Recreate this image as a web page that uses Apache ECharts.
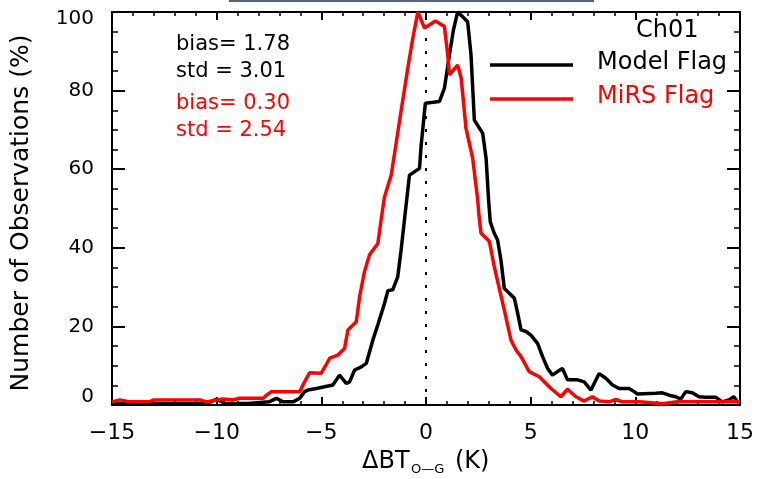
<!DOCTYPE html>
<html><head><meta charset="utf-8">
<script src="https://cdn.jsdelivr.net/npm/echarts@6/dist/echarts.min.js"></script>
<style>html,body{margin:0;padding:0;background:#fff}#c{width:757px;height:479px}</style>
</head><body><div id="c"></div>
<script>
// Model Flag (black) histogram vertices: Delta BT (K), % of observations
const modelFlagX = [-15.0,-12.0,-10.5,-10.0,-9.6,-8.5,-7.5,-7.15,-6.83,-6.35,-6.03,-5.80,-5.64,-5.24,-4.45,-4.13,-3.81,-3.65,-3.41,-3.09,-2.85,-2.54,-2.30,-1.98,-1.82,-1.59,-1.35,-1.19,-1.03,-0.79,-0.31,-0.23,-0.03,0.64,0.88,1.12,1.31,1.51,1.75,1.99,2.15,2.31,2.71,2.87,2.99,3.07,3.26,3.42,3.58,3.74,3.98,4.22,4.38,4.54,4.78,5.01,5.33,5.57,5.81,6.04,6.28,6.52,6.76,7.24,7.56,7.88,8.27,8.59,8.91,9.23,9.70,9.94,10.10,10.97,11.29,11.61,11.93,12.17,12.41,12.72,13.04,13.36,13.84,14.15,14.47,14.71,14.87,15.0];
const modelFlagY = [0.3,0.3,0.3,1.5,0.4,0.4,0.8,1.7,0.8,0.8,1.7,3.4,3.8,4.2,5.1,7.6,5.5,5.9,8.9,9.7,10.6,16.5,20.4,25.9,29.1,29.3,32.6,39.4,47.1,58.5,60.2,66.2,76.8,77.2,80.6,89.1,95.4,100,98.8,97.5,89.1,72.5,69.1,62.8,52.2,46.6,43.7,42.0,36.9,29.7,28.4,27.2,23.3,19.1,18.7,17.8,15.7,12.3,9.3,7.6,8.5,9.3,6.4,6.4,5.9,3.8,8.0,6.8,5.1,4.2,4.2,3.4,2.8,3.0,3.1,2.5,2.1,1.5,3.4,3.1,2.1,2.0,2.0,0.8,1.3,2.1,0.8,0.8];
// MiRS Flag (red)
const mirsFlagX = [-15.0,-14.62,-14.14,-13.19,-13.03,-10.80,-10.48,-10.01,-9.69,-9.22,-8.90,-7.78,-7.62,-7.38,-6.03,-5.80,-5.56,-5.00,-4.60,-4.21,-3.89,-3.73,-3.33,-3.17,-2.94,-2.70,-2.30,-2.10,-1.98,-1.66,-1.27,-0.87,-0.63,-0.39,-0.07,0.45,0.88,1.04,1.12,1.51,1.68,1.91,2.23,2.47,2.52,2.63,3.03,3.26,3.50,3.74,4.06,4.30,4.54,4.93,5.41,5.97,6.44,6.76,7.16,7.56,7.95,8.27,8.75,9.07,9.38,10.18,11.3,12.0,15.0];
const mirsFlagY = [0.8,1.3,0.8,0.8,1.3,1.3,0.8,1.3,1.5,1.3,1.7,1.7,2.5,3.4,3.4,5.9,8.2,8.1,11.9,12.7,14.4,19.1,21.2,27.6,33.9,38.2,41.1,48.8,53.0,58.5,72.1,85.7,93.3,100,95.9,97.7,96.3,89.0,84.0,86.5,83.2,70.4,62.8,52.2,48.8,43.7,41.6,35.2,29.7,24.2,16.5,14.0,12.3,8.5,7.2,4.2,2.1,4.0,2.1,1.0,2.1,1.0,0.8,1.4,0.8,0.8,0.3,0.8,0.8];
const zeroLineX = [0, 0];
const zeroLineY = [0, 100];
const seriesNames = ['Model Flag', 'MiRS Flag'];
const statsLines = ['bias= 1.78', 'std = 3.01', 'bias= 0.30', 'std = 2.54'];

const FONT = 'DejaVu Sans';
const zip = (xs, ys) => xs.map((x, i) => [x, ys[i]]);

const chart = echarts.init(document.getElementById('c'), null, {renderer: 'canvas'});

const xBase = {
  type: 'value', min: -15, max: 15, interval: 5,
  axisLine: {onZero: false, lineStyle: {color: '#000', width: 2}},
  axisTick: {inside: true, length: 8, lineStyle: {color: '#000', width: 2}},
  minorTick: {show: true, splitNumber: 5, length: 4, lineStyle: {color: '#000', width: 1.5}},
  splitLine: {show: false}
};
const yBase = {
  type: 'value', min: 0, max: 100, interval: 20,
  axisLine: {onZero: false, show: true, lineStyle: {color: '#000', width: 2}},
  axisTick: {show: true, inside: true, length: 13, lineStyle: {color: '#000', width: 2}},
  minorTick: {show: true, splitNumber: 4, length: 6, lineStyle: {color: '#000', width: 1.5}},
  splitLine: {show: false}
};

chart.setOption({
  animation: false,
  backgroundColor: '#fff',
  grid: {left: 112, right: 16, top: 12, bottom: 74},
  xAxis: [
    Object.assign({}, xBase, {position: 'bottom',
      axisLabel: {fontFamily: FONT, fontSize: 22, color: '#000', margin: 17,
        formatter: v => String(v).replace('-', '\u2212')}}),
    Object.assign({}, xBase, {position: 'top', axisLabel: {show: false}})
  ],
  yAxis: [
    Object.assign({}, yBase, {position: 'left',
      axisLabel: {fontFamily: FONT, fontSize: 20, color: '#000', margin: 18,
        formatter: v => v === 0 ? '{lo|0}' : (v === 100 ? '{hi|100}' : String(v)),
        rich: {
          lo: {fontFamily: FONT, fontSize: 20, color: '#000', padding: [0, 0, 16, 0]},
          hi: {fontFamily: FONT, fontSize: 20, color: '#000', padding: [14, 0, 0, 0]}
        }}}),
    Object.assign({}, yBase, {position: 'right', axisLabel: {show: false}})
  ],
  series: [
    {type: 'line', name: 'zero', data: zip(zeroLineX, zeroLineY), symbol: 'none', silent: true,
      lineStyle: {color: '#000', width: 2, type: [3, 10]}},
    {type: 'line', name: seriesNames[0], data: zip(modelFlagX, modelFlagY), symbol: 'none',
      lineStyle: {color: '#000', width: 3.5}},
    {type: 'line', name: seriesNames[1], data: zip(mirsFlagX, mirsFlagY), symbol: 'none',
      lineStyle: {color: '#ff0000', width: 3.5}}
  ],
  graphic: [
    {type: 'line', shape: {x1: 229, y1: 1, x2: 594, y2: 1}, style: {stroke: '#56627e', lineWidth: 2}},
    {type: 'text', x: 176, y: 45, style: {text: statsLines[0], font: '21px "DejaVu Sans"', fill: '#000', verticalAlign: 'middle'}},
    {type: 'text', x: 176, y: 72, style: {text: statsLines[1], font: '21px "DejaVu Sans"', fill: '#000', verticalAlign: 'middle'}},
    {type: 'text', x: 176, y: 104, style: {text: statsLines[2], font: '21px "DejaVu Sans"', fill: '#ff0000', verticalAlign: 'middle'}},
    {type: 'text', x: 176, y: 131, style: {text: statsLines[3], font: '21px "DejaVu Sans"', fill: '#ff0000', verticalAlign: 'middle'}},
    {type: 'text', x: 636, y: 31, style: {text: 'Ch01', font: '24px "DejaVu Sans"', fill: '#000', verticalAlign: 'middle'}},
    {type: 'line', shape: {x1: 490, y1: 65, x2: 573, y2: 65}, style: {stroke: '#000', lineWidth: 3.5}},
    {type: 'text', x: 597, y: 63, style: {text: seriesNames[0], font: '24px "DejaVu Sans"', fill: '#000', verticalAlign: 'middle'}},
    {type: 'line', shape: {x1: 490, y1: 99, x2: 573, y2: 99}, style: {stroke: '#ff0000', lineWidth: 3.5}},
    {type: 'text', x: 597, y: 97, style: {text: seriesNames[1], font: '24px "DejaVu Sans"', fill: '#ff0000', verticalAlign: 'middle'}},
    {type: 'text', x: 21, y: 213, rotation: Math.PI / 2,
      style: {text: 'Number of Observations (%)', font: '25px "DejaVu Sans"', fill: '#000', align: 'center', verticalAlign: 'middle'}},
    {type: 'text', x: 362, y: 462, style: {text: '\u0394BT', font: '24px "DejaVu Sans"', fill: '#000', verticalAlign: 'middle'}},
    {type: 'text', x: 411, y: 470, style: {text: 'O\u2014G', font: '13px "DejaVu Sans"', fill: '#000', verticalAlign: 'middle'}},
    {type: 'text', x: 455, y: 462, style: {text: '(K)', font: '24px "DejaVu Sans"', fill: '#000', verticalAlign: 'middle'}}
  ]
});
</script>
</body></html>
